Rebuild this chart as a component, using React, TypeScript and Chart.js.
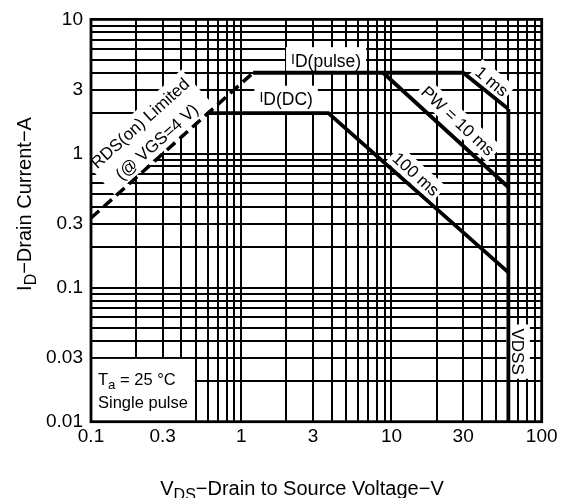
import React, { useEffect, useRef } from 'react';
import { Chart, registerables } from 'chart.js';

Chart.register(...registerables);

const FONT = '"Liberation Sans", Arial, Helvetica, sans-serif';

// Tick labels
const xTickLabels = ['0.1', '0.3', '1', '3', '10', '30', '100'];
const yTickLabels = ['0.01', '0.03', '0.1', '0.3', '1', '3', '10'];
const xDecades = [0.1, 1, 10];
const yDecades = [0.01, 0.1, 1];
const gridMultipliers = [1, 2, 3, 4, 5, 6, 7, 8, 9];

// Series (V_DS in volts, I_D in amperes)
const rdsVoltage = [0.1, 1.2];
const rdsCurrent = [0.33, 4];
const pulse1msVoltage = [1.2, 30, 60];
const pulse1msCurrent = [4, 4, 2.15];
const pulse10msVoltage = [8.8, 60];
const pulse10msCurrent = [4, 0.56];
const dcVoltage = [0.6, 3.8, 60];
const dcCurrent = [2, 2, 0.13];
const vdssVoltage = [60, 60];
const vdssCurrent = [2.15, 0.01];

type Part = { t: string; scale?: number; dy?: number };
type Note = {
  lines: Part[][];
  v: number;
  i: number;
  angle: number;
  size: number;
  lineGap?: number;
  padX: number;
  padY: number;
};

const notes: Note[] = [
  { lines: [[{ t: 'I', scale: 0.8, dy: -3 }, { t: 'D(pulse)' }]], v: 3.67, i: 4.96, angle: 0, size: 17.5, padX: 5, padY: 3 },
  { lines: [[{ t: 'I', scale: 0.8, dy: -3 }, { t: 'D(DC)' }]], v: 1.99, i: 2.56, angle: 0, size: 17.5, padX: 5, padY: 3 },
  { lines: [[{ t: 'RDS(on) Limited' }], [{ t: '(@ VGS=4 V)' }]], v: 0.24, i: 1.44, angle: -42, size: 17, lineGap: 25, padX: 4, padY: 2 },
  { lines: [[{ t: '1 ms' }]], v: 46.7, i: 3.47, angle: 40, size: 17, padX: 3, padY: 1 },
  { lines: [[{ t: 'PW = 10 ms' }]], v: 27.8, i: 1.76, angle: 43, size: 17, padX: 3, padY: 1 },
  { lines: [[{ t: '100 ms' }]], v: 14.6, i: 0.705, angle: 42, size: 17, padX: 3, padY: 1 },
  { lines: [[{ t: 'VDSS' }]], v: 69.6, i: 0.0333, angle: 90, size: 17, padX: 4, padY: 2 },
];

const conditionBox = { v0: 0.1, v1: 0.5, i0: 0.01, i1: 0.03 };
const conditionLines: Part[][] = [
  [{ t: 'T' }, { t: 'a', scale: 0.8, dy: 4 }, { t: ' = 25 °C' }],
  [{ t: 'Single pulse' }],
];

const xTitleParts: Part[] = [{ t: 'V' }, { t: 'DS', scale: 0.8, dy: 5 }, { t: '−Drain to Source Voltage−V' }];
const yTitleParts: Part[] = [{ t: 'I' }, { t: 'D', scale: 0.8, dy: 5 }, { t: '−Drain Current−A' }];

function gridValues(decades: number[], max: number): number[] {
  const out: number[] = [];
  decades.forEach((d) => gridMultipliers.forEach((m) => out.push(Number((m * d).toPrecision(3)))));
  out.push(max);
  return out;
}

function toPoints(xs: number[], ys: number[]) {
  return xs.map((x, k) => ({ x, y: ys[k] }));
}

function richWidth(ctx: CanvasRenderingContext2D, parts: Part[], size: number) {
  let w = 0;
  parts.forEach((p) => {
    ctx.font = `${size * (p.scale ?? 1)}px ${FONT}`;
    w += ctx.measureText(p.t).width;
  });
  return w;
}

function drawRich(ctx: CanvasRenderingContext2D, parts: Part[], x: number, yCenter: number, size: number, align: 'left' | 'center') {
  const w = richWidth(ctx, parts, size);
  let cx = align === 'center' ? x - w / 2 : x;
  const base = yCenter + size * 0.36;
  ctx.textAlign = 'left';
  ctx.textBaseline = 'alphabetic';
  ctx.fillStyle = '#000';
  parts.forEach((p) => {
    ctx.font = `${size * (p.scale ?? 1)}px ${FONT}`;
    ctx.fillText(p.t, cx, base + (p.dy ?? 0));
    cx += ctx.measureText(p.t).width;
  });
}

const labelPlugin = {
  id: 'soaLabels',
  beforeDatasetsDraw(chart: any) {
    const ctx: CanvasRenderingContext2D = chart.ctx;
    const xs = chart.scales.x;
    const ys = chart.scales.y;
    ctx.save();
    // condition box
    const l = xs.getPixelForValue(conditionBox.v0);
    const r = xs.getPixelForValue(conditionBox.v1);
    const t = ys.getPixelForValue(conditionBox.i1);
    const b = ys.getPixelForValue(conditionBox.i0);
    ctx.fillStyle = '#fff';
    ctx.fillRect(l, t + 1.2, r - l - 1.2, b - t - 1.2);
    drawRich(ctx, conditionLines[0], l + 7, t + 21, 16.5, 'left');
    drawRich(ctx, conditionLines[1], l + 7, t + 44, 16.5, 'left');

    notes.forEach((n) => {
      const px = xs.getPixelForValue(n.v);
      const py = ys.getPixelForValue(n.i);
      const gap = n.lineGap ?? 0;
      const widths = n.lines.map((ln) => richWidth(ctx, ln, n.size));
      const w = Math.max(...widths) + 2 * n.padX;
      const h = gap * (n.lines.length - 1) + n.size * 1.15 + 2 * n.padY;
      ctx.save();
      ctx.translate(px, py);
      ctx.rotate((n.angle * Math.PI) / 180);
      ctx.fillStyle = '#fff';
      ctx.fillRect(-w / 2, -h / 2, w, h);
      n.lines.forEach((ln, k) => {
        const yc = -((n.lines.length - 1) * gap) / 2 + k * gap;
        drawRich(ctx, ln, 0, yc, n.size, 'center');
      });
      ctx.restore();
    });
    ctx.restore();
  },
  afterDatasetsDraw(chart: any) {
    const ctx: CanvasRenderingContext2D = chart.ctx;
    const a = chart.chartArea;
    ctx.save();
    ctx.strokeStyle = '#000';
    ctx.lineWidth = 2.8;
    ctx.strokeRect(a.left, a.top, a.right - a.left, a.bottom - a.top);
    // axis titles
    drawRich(ctx, xTitleParts, 302, 488, 20, 'center');
    ctx.translate(24, 204);
    ctx.rotate(-Math.PI / 2);
    drawRich(ctx, yTitleParts, 0, 0, 20, 'center');
    ctx.restore();
  },
};

function labelFor(list: string[]) {
  const nums = list.map((s) => parseFloat(s));
  return (value: any) => {
    const v = Number(value);
    const k = nums.findIndex((n) => Math.abs(v - n) / n < 1e-6);
    return k >= 0 ? list[k] : '';
  };
}

export default function App() {
  const ref = useRef<HTMLCanvasElement | null>(null);

  useEffect(() => {
    document.body.style.margin = '0';
    const canvas = ref.current;
    if (!canvas) return;
    const lineStyle = { borderColor: '#000', borderWidth: 3.8, pointRadius: 0, fill: false, tension: 0 };
    const xGrid = gridValues(xDecades, 100);
    const yGrid = gridValues(yDecades, 10);
    const chart = new Chart(canvas, {
      type: 'line',
      data: {
        datasets: [
          { ...lineStyle, label: 'RDS(on) Limited', data: toPoints(rdsVoltage, rdsCurrent), borderDash: [11, 6], borderWidth: 3.5 },
          { ...lineStyle, label: '1 ms', data: toPoints(pulse1msVoltage, pulse1msCurrent) },
          { ...lineStyle, label: 'PW = 10 ms', data: toPoints(pulse10msVoltage, pulse10msCurrent) },
          { ...lineStyle, label: 'ID(DC) / 100 ms', data: toPoints(dcVoltage, dcCurrent) },
          { ...lineStyle, label: 'VDSS', data: toPoints(vdssVoltage, vdssCurrent) },
        ],
      },
      options: {
        animation: false,
        responsive: false,
        maintainAspectRatio: false,
        layout: { padding: { top: 14.7, right: 21.3, left: 0, bottom: 0 } },
        plugins: { legend: { display: false }, tooltip: { enabled: false } },
        scales: {
          x: {
            type: 'logarithmic',
            min: 0.1,
            max: 100,
            afterBuildTicks: (s: any) => {
              s.ticks = xGrid.map((v) => ({ value: v }));
            },
            afterFit: (s: any) => {
              s.height = 76.3;
            },
            grid: { color: '#000', lineWidth: 2, drawTicks: false },
            border: { display: false },
            ticks: {
              autoSkip: false,
              maxRotation: 0,
              padding: 4,
              color: '#000',
              font: { family: FONT, size: 19 },
              callback: labelFor(xTickLabels),
            },
          },
          y: {
            type: 'logarithmic',
            min: 0.01,
            max: 10,
            afterBuildTicks: (s: any) => {
              s.ticks = yGrid.map((v) => ({ value: v }));
            },
            afterFit: (s: any) => {
              s.width = 91;
            },
            grid: { color: '#000', lineWidth: 2, drawTicks: false },
            border: { display: false },
            ticks: {
              autoSkip: false,
              padding: 8,
              color: '#000',
              font: { family: FONT, size: 19 },
              callback: labelFor(yTickLabels),
            },
          },
        },
      },
      plugins: [labelPlugin],
    } as any);
    return () => chart.destroy();
  }, []);

  return (
    <div style={{ width: 563, height: 498, background: '#fff' }}>
      <canvas ref={ref} width={563} height={498} style={{ display: 'block' }} />
    </div>
  );
}
